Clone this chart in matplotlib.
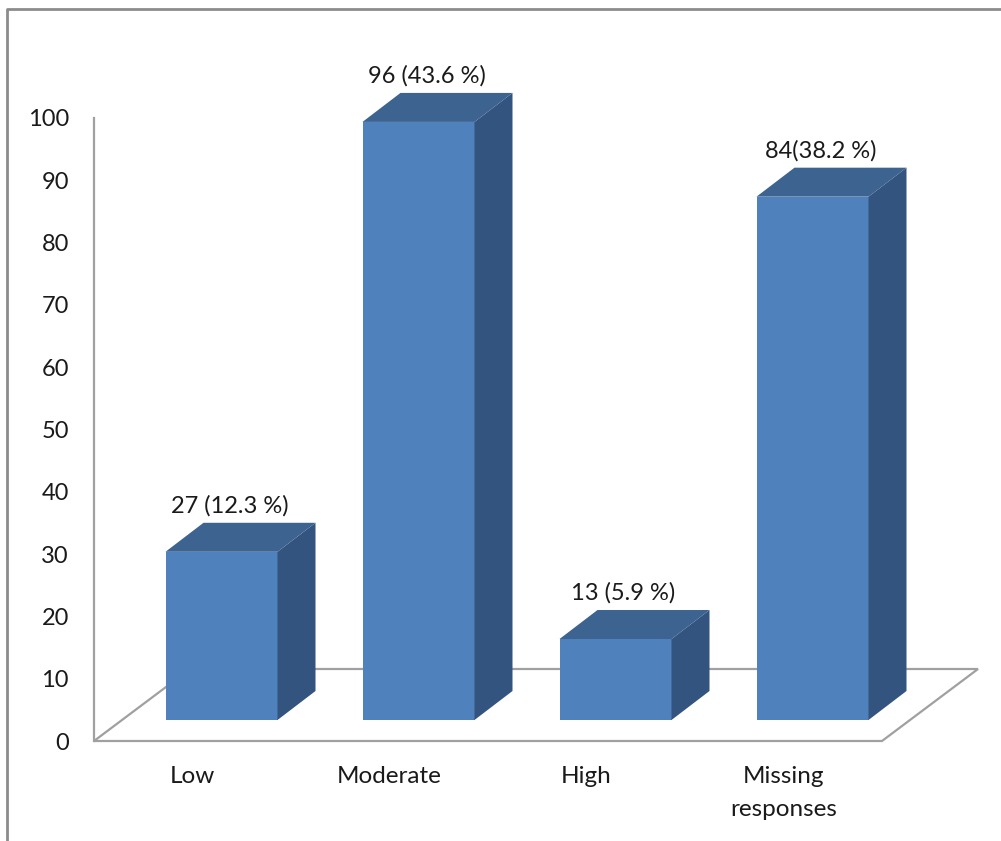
import matplotlib.pyplot as plt
from matplotlib.patches import Polygon
from matplotlib.lines import Line2D
import numpy as np

categories = ["Low", "Moderate", "High", "Missing\nresponses"]
counts = [27, 96, 13, 84]
labels = ["27 (12.3 %)", "96 (43.6 %)", "13 (5.9 %)", "84(38.2 %)"]
yticks = [0, 10, 20, 30, 40, 50, 60, 70, 80, 90, 100]

front_col = "#4f81bd"
top_col = "#3d6391"
side_col = "#32547f"
grid_col = "#a0a0a0"
text_col = "#1a1a1a"

plt.rcParams['font.family'] = ['Lato', 'DejaVu Sans']

fig = plt.figure(figsize=(10.01, 8.41), dpi=100)
ax = fig.add_axes([94 / 1001, 100 / 841, 788 / 1001, 623 / 841])
ax.set_xlim(0.5, 4.5)
ax.set_ylim(0, 100)

# pixel -> data helpers
px_x = 4 / 788
px_y = 100 / 623

# floor of the 3d plot
fdx, fdy = 96 * px_x, 72 * px_y
floor = Polygon([(0.5, 0), (4.5, 0), (4.5 + fdx, fdy), (0.5 + fdx, fdy)],
                closed=True, facecolor="white", edgecolor=grid_col, lw=1.6,
                clip_on=False, zorder=1)
ax.add_patch(floor)

# bars (front face) placed at mid depth
x = np.arange(1, len(categories) + 1)
bx = x + 29 * px_x
base = 21 * px_y
w = 112 * px_x
ddx, ddy = 38 * px_x, 29 * px_y
ax.bar(bx, counts, width=w, bottom=base, color=front_col, zorder=3, clip_on=False)

for xi, v, lab in zip(bx, counts, labels):
    xl, xr = xi - w / 2, xi + w / 2
    top = base + v
    side = Polygon([(xr, base), (xr + ddx, base + ddy), (xr + ddx, top + ddy), (xr, top)],
                   closed=True, facecolor=side_col, edgecolor="none", zorder=3, clip_on=False)
    lid = Polygon([(xl, top), (xl + ddx, top + ddy), (xr + ddx, top + ddy), (xr, top)],
                  closed=True, facecolor=top_col, edgecolor="none", zorder=3, clip_on=False)
    ax.add_patch(side)
    ax.add_patch(lid)
    ax.text(xi + 8 * px_x, top + ddy + 17 * px_y, lab, ha="center", va="center",
            fontsize=17, color=text_col, clip_on=False)

for s in ["top", "right", "bottom"]:
    ax.spines[s].set_visible(False)
ax.spines["left"].set_color(grid_col)
ax.spines["left"].set_linewidth(1.6)

ax.set_yticks(yticks)
ax.set_xticks(x)
ax.set_xticklabels(categories, fontsize=17.5, color=text_col, linespacing=1.7)
ax.tick_params(axis="y", length=0, pad=18, labelsize=17, labelcolor=text_col)
ax.tick_params(axis="x", length=0, pad=18)

# outer chart border
fig.add_artist(Line2D([7 / 1001, 7 / 1001, 1.0], [0, 1 - 9 / 841, 1 - 9 / 841],
                      transform=fig.transFigure, color="#8c8c8c", lw=2))

fig.savefig("out.png", dpi=100)
